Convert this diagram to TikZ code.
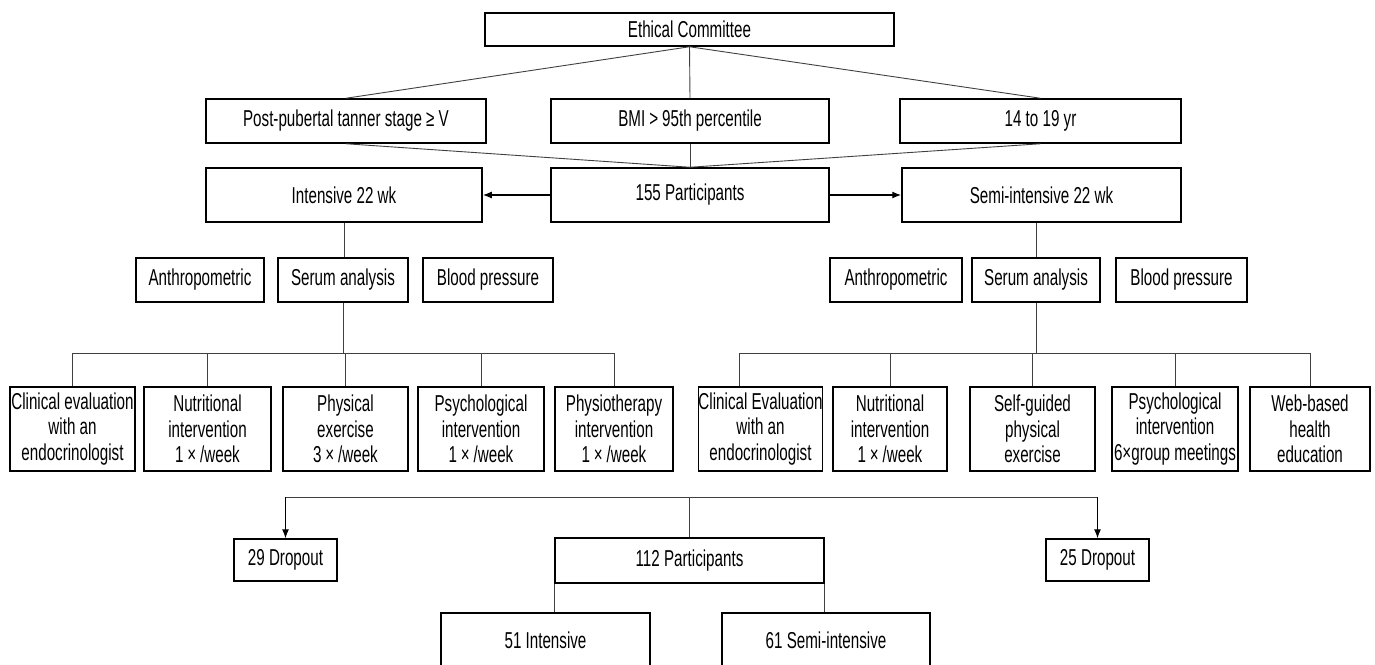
\documentclass[tikz,border=0pt]{standalone}
\usepackage{fontspec}
\setmainfont{Liberation Sans}[FakeStretch=0.66]
\usetikzlibrary{arrows.meta}
\tikzset{
  box/.style={draw=black, line width=1.5pt, inner sep=0pt, align=center,
    font=\fontsize{23}{25.7}\selectfont},
  conn/.style={draw=black!75, line width=0.9pt},
  arr/.style={draw=black, line width=1.3pt, -{Latex[length=9pt,width=7pt]}},
}
\begin{document}
\begin{tikzpicture}[x=1pt,y=-1pt]
\useasboundingbox (0,0) rectangle (1375,664);
\clip (0,0) rectangle (1375,664);
% top
\node[box, minimum width=409pt, minimum height=33pt] (eth) at (689.5,29.5) {Ethical Committee};
\node[box, minimum width=280pt, minimum height=44pt] (post) at (346,121) {Post-pubertal tanner stage ≥ V};
\node[box, minimum width=278pt, minimum height=44pt] (bmi) at (690,121) {BMI >\,95th percentile};
\node[box, minimum width=281pt, minimum height=44pt] (age) at (1040.5,121) {14 to 19 yr};
\node[box, minimum width=276pt, minimum height=54pt] (intw) at (344,195) {Intensive 22 wk};
\node[box, minimum width=278pt, minimum height=54pt] (p155) at (690,195) {155 Participants};
\node[box, minimum width=279pt, minimum height=54pt] (semw) at (1041.5,195) {Semi-intensive 22 wk};
% row 2 left
\node[box, minimum width=128pt, minimum height=44pt] (anL) at (200,280) {Anthropometric};
\node[box, minimum width=130pt, minimum height=44pt] (seL) at (343,280) {Serum analysis};
\node[box, minimum width=130pt, minimum height=44pt] (bpL) at (488,280) {Blood pressure};
% row 2 right
\node[box, minimum width=132pt, minimum height=44pt] (anR) at (896,280) {Anthropometric};
\node[box, minimum width=128pt, minimum height=44pt] (seR) at (1036,280) {Serum analysis};
\node[box, minimum width=131pt, minimum height=44pt] (bpR) at (1181.5,280) {Blood pressure};
% row 3 left
\node[box, minimum width=125pt, minimum height=84pt] (c1) at (72.5,429) {Clinical evaluation\\with an\\endocrinologist};
\node[box, minimum width=127pt, minimum height=84pt] (c2) at (207.5,429) {Nutritional\\intervention\\1\,×\,/week};
\node[box, minimum width=125pt, minimum height=84pt] (c3) at (345.5,429) {Physical\\exercise\\3\,×\,/week};
\node[box, minimum width=126pt, minimum height=84pt] (c4) at (481,429) {Psychological\\intervention\\1\,×\,/week};
\node[box, minimum width=118pt, minimum height=84pt] (c5) at (614,429) {Physiotherapy\\intervention\\1\,×\,/week};
% row 3 right
\node[box, minimum width=123pt, minimum height=84pt] (d1) at (760.5,429) {Clinical Evaluation\\with an\\endocrinologist};
\node[box, minimum width=114pt, minimum height=84pt] (d2) at (890,429) {Nutritional\\intervention\\1\,×\,/week};
\node[box, minimum width=125pt, minimum height=84pt] (d3) at (1032.5,429) {Self-guided\\physical\\exercise};
\node[box, minimum width=126pt, minimum height=84pt] (d4) at (1175,429) {Psychological\\intervention\\6×group meetings};
\node[box, minimum width=120pt, minimum height=84pt] (d5) at (1310,429) {Web-based\\health\\education};
% bottom
\node[box, minimum width=103pt, minimum height=42pt] (dr29) at (285.5,560) {29 Dropout};
\node[box, minimum width=269pt, minimum height=45pt] (p112) at (689.5,560.5) {112 Participants};
\node[box, minimum width=103pt, minimum height=42pt] (dr25) at (1097.5,560) {25 Dropout};
\node[box, minimum width=209pt, minimum height=54pt] (i51) at (545.5,640) {51 Intensive};
\node[box, minimum width=208pt, minimum height=54pt] (s61) at (826,640) {61 Semi-intensive};
% bus coordinates
\coordinate (busA) at (0,353);
\coordinate (busB) at (0,497);
% top connectors
\draw[conn] (eth.south) -- (post.north);
\draw[conn] (eth.south) -- (bmi.north);
\draw[conn] (eth.south) -- (age.north);
\draw[conn] (post.south) -- (p155.north);
\draw[conn] (bmi.south) -- (p155.north);
\draw[conn] (age.south) -- (p155.north);
\draw[arr] (p155.west) -- (intw.east);
\draw[arr] (p155.east) -- (semw.west);
\draw[conn] (intw.south) -- (intw.south |- seL.north);
\draw[conn] (semw.south -| seR.north) -- (seR.north);
% left bus
\draw[conn] (seL.south) -- (seL.south |- busA);
\draw[conn] (c1.north |- busA) -- (c5.north |- busA);
\foreach \n in {c1,c2,c3,c4,c5} \draw[conn] (\n.north |- busA) -- (\n.north);
% right bus
\draw[conn] (seR.south) -- (seR.south |- busA);
\coordinate (d1top) at ([xshift=-21pt]d1.north);
\draw[conn] (d1top |- busA) -- (d5.north |- busA);
\draw[conn] (d1top |- busA) -- (d1top);
\foreach \n in {d2,d3,d4,d5} \draw[conn] (\n.north |- busA) -- (\n.north);
% bottom bus
\draw[conn] (dr29.north |- busB) -- (dr25.north |- busB);
\draw[arr, line width=1pt] (dr29.north |- busB) -- (dr29.north);
\draw[arr, line width=1pt] (dr25.north |- busB) -- (dr25.north);
\draw[conn] (p112.north |- busB) -- (p112.north);
\draw[conn] (p112.south west) -- (p112.south west |- i51.north);
\draw[conn] (p112.south east) -- (p112.south east |- s61.north);
\end{tikzpicture}
\end{document}
